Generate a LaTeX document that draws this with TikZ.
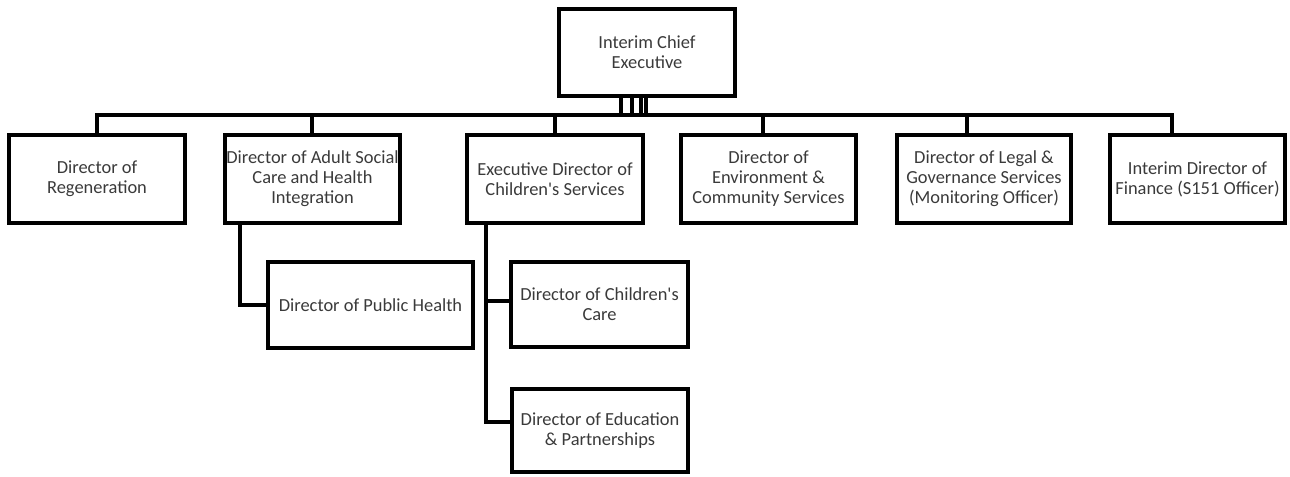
\documentclass[tikz,border=0pt]{standalone}
\usepackage{fontspec}
\setmainfont{Carlito}[Ligatures=TeXOff]
\definecolor{txtgray}{HTML}{3A3A3A}
\begin{document}
\begin{tikzpicture}[x=1bp,y=-1bp,
  box/.style={draw=black, line width=4.5bp, rectangle, inner sep=0pt, align=center,
    text=txtgray, font=\fontsize{18.5}{20}\selectfont},
  conn/.style={draw=black, line width=4.5bp}]
\useasboundingbox (0,0) rectangle (1290,477);
\node[box, minimum width=176bp, minimum height=87bp] (ce) at (647,52.5) {Interim Chief\\Executive};
\node[box, minimum width=176bp, minimum height=88bp] (reg) at (97,179) {Director of\\Regeneration};
\node[box, minimum width=175bp, minimum height=88bp] (asc) at (312.5,179) {Director of Adult Social\\Care and Health\\Integration};
\node[box, minimum width=176bp, minimum height=88bp] (cs) at (555,179) {Executive Director of\\Children's Services};
\node[box, minimum width=175bp, minimum height=88bp] (env) at (768.5,179) {Director of\\Environment \&\\Community Services};
\node[box, minimum width=174bp, minimum height=88bp] (leg) at (984,179) {Director of Legal \&\\Governance Services\\(Monitoring Officer)};
\node[box, minimum width=175bp, minimum height=88bp] (fin) at (1197.5,179) {Interim Director of\\Finance (S151 Officer)};
\node[box, minimum width=205bp, minimum height=86bp] (ph) at (370.5,305) {Director of Public Health};
\node[box, minimum width=177bp, minimum height=85bp] (cc) at (599.5,304.5) {Director of Children's\\Care};
\node[box, minimum width=176bp, minimum height=83bp] (edu) at (600,430.5) {Director of Education\\\& Partnerships};
% bus
\coordinate (busL) at (97,115);
\coordinate (busR) at (1172,115);
\draw[conn] ([xshift=-2.25bp]busL) -- ([xshift=2.25bp]busR);
\foreach \x in {621,632,641,646} {
  \draw[conn] (\x,0 |- ce.south) -- (\x,115);
}
\draw[conn] (busL) -- (reg.north);
\draw[conn] (312,115) -- (312,0 |- asc.north);
\draw[conn] (555,115) -- (555,0 |- cs.north);
\draw[conn] (763,115) -- (763,0 |- env.north);
\draw[conn] (967,115) -- (967,0 |- leg.north);
\draw[conn] (busR) -- (1172,0 |- fin.north);
% sub connectors
\draw[conn] (240,0 |- asc.south) |- (ph.west);
\draw[conn] (486,0 |- cs.south) -- (486,424.25);
\draw[conn] (486,301) -- (cc.west |- 0,301);
\draw[conn] (483.75,422) -- (edu.west |- 0,422);
\end{tikzpicture}
\end{document}
